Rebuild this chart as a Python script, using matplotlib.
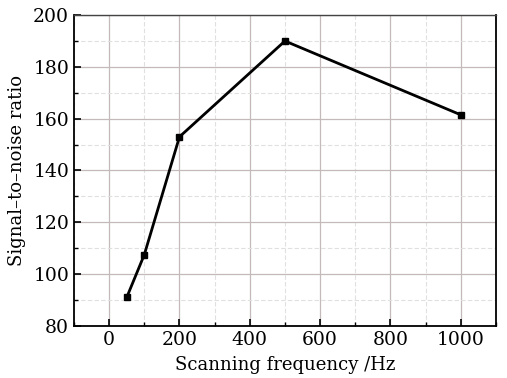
import matplotlib
matplotlib.use("Agg")
import matplotlib.pyplot as plt
from matplotlib.ticker import MultipleLocator

freq = [50, 100, 200, 500, 1000]
snr = [91, 107.5, 153, 190, 161.5]

plt.rcParams['font.family'] = ['DejaVu Serif']
fig = plt.figure(figsize=(5.07, 3.78), dpi=100)
ax = fig.add_axes([0.146, 0.138, 0.832, 0.822])
ax.set_xlim(-100, 1100)
ax.set_ylim(80, 200)
ax.xaxis.set_major_locator(MultipleLocator(200))
ax.xaxis.set_minor_locator(MultipleLocator(100))
ax.yaxis.set_major_locator(MultipleLocator(20))
ax.yaxis.set_minor_locator(MultipleLocator(10))
ax.grid(which='major', color='#c4baba', linewidth=0.9, linestyle='-')
ax.grid(which='minor', color='#e0e0e0', linewidth=0.8, linestyle=(0, (4, 2)))
ax.set_axisbelow(True)
ax.plot(freq, snr, color='black', linewidth=2.0, marker='s', markersize=5)
ax.tick_params(which='both', direction='in', top=False, right=False, labelsize=13.5)
ax.tick_params(which='major', length=5, width=1.2)
ax.tick_params(which='minor', length=3, width=1)
for s in ax.spines.values():
    s.set_linewidth(1.3)
ax.spines['top'].set_color('#444444')
ax.spines['top'].set_linewidth(1.0)
ax.set_xlabel('Scanning frequency /Hz', fontsize=13, labelpad=5)
ax.set_ylabel('Signal–to–noise ratio', fontsize=13, labelpad=5)
fig.savefig('out.png', dpi=100)
